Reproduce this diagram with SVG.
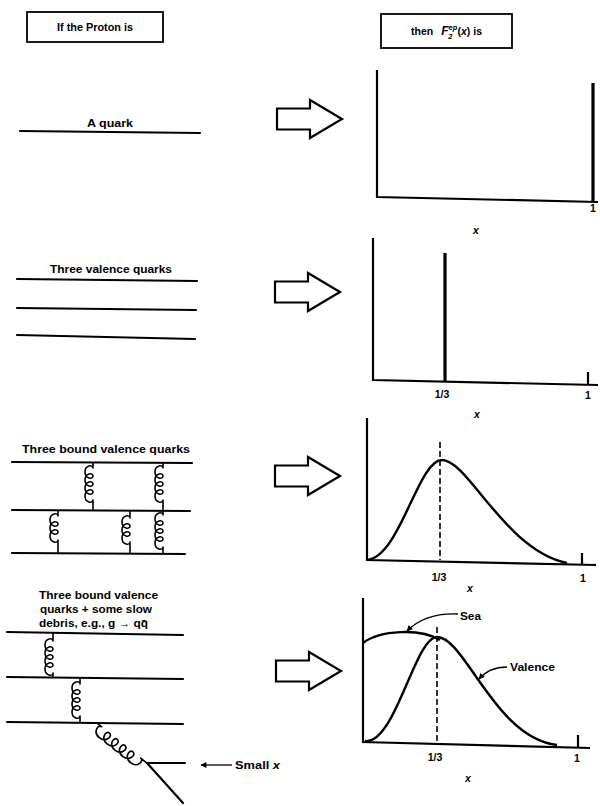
<svg xmlns="http://www.w3.org/2000/svg" xmlns:xlink="http://www.w3.org/1999/xlink" width="600" height="806" viewBox="0 0 600 806">
<style>
.t{font-family:"Liberation Sans",Arial,sans-serif;font-weight:bold;font-size:10.5px;fill:#000}
.i{font-style:italic}
.q{stroke:#000;stroke-width:2.2;fill:none;stroke-linecap:round}
.g{stroke:#000;stroke-width:1.6;fill:none;stroke-linejoin:round}
.ax{stroke:#000;stroke-width:2.2;fill:none}
.sp{stroke:#000;stroke-width:3.2;fill:none}
.cv{stroke:#000;stroke-width:2.4;fill:none}
.dash{stroke:#000;stroke-width:1.6;stroke-dasharray:6 3;fill:none}
.box{stroke:#000;stroke-width:1.8;fill:#fff}
.ha{stroke:#000;stroke-width:2.2;fill:#fff;stroke-linejoin:miter}
.ld{stroke:#000;stroke-width:1.3;fill:none}
</style>
<defs>
<path id="hollow" d="M0,-10.5 H33 V-19 L65,0 L33,19 V10.5 H0 Z"/>
<marker id="ah" viewBox="0 0 10 10" refX="9" refY="5" markerWidth="7" markerHeight="6" orient="auto" markerUnits="userSpaceOnUse">
<path d="M0,0 L10,5 L0,10 Z" fill="#000"/>
</marker>
</defs>
<rect width="600" height="806" fill="#fff"/>

<g id="header-left">
<rect class="box" x="27" y="12" width="136" height="30"/>
<text class="t" x="95" y="31" text-anchor="middle" textLength="76" lengthAdjust="spacingAndGlyphs">If the Proton is</text>
</g>
<g id="header-right">
<rect class="box" x="381" y="14" width="131" height="34"/>
<text class="t" x="411" y="35">then<tspan class="i" dx="8" font-size="12">F</tspan><tspan class="i" font-size="7.5" dy="-5">ep</tspan><tspan class="i" font-size="7.5" dx="-9" dy="9">2</tspan><tspan dx="5" dy="-4">(</tspan><tspan class="i">x</tspan>) is</text>
</g>

<g id="proton-quark">
<line class="q" x1="20" y1="131" x2="200" y2="133"/>
<text class="t" x="87" y="127" textLength="46" lengthAdjust="spacingAndGlyphs">A quark</text>
</g>

<g id="proton-three-valence">
<text class="t" x="50" y="273" textLength="122" lengthAdjust="spacingAndGlyphs">Three valence quarks</text>
<line class="q" x1="17" y1="279" x2="197" y2="281"/>
<line class="q" x1="17" y1="308" x2="196" y2="310"/>
<line class="q" x1="17" y1="335" x2="195" y2="339"/>
</g>

<g id="proton-bound">
<text class="t" x="22" y="453" textLength="168" lengthAdjust="spacingAndGlyphs">Three bound valence quarks</text>
<line class="q" x1="12" y1="462" x2="192" y2="463"/>
<line class="q" x1="12" y1="510" x2="190" y2="511"/>
<line class="q" x1="12" y1="553" x2="185" y2="554"/>
<path class="g" d="M93,462 V468 c 0,-3.6 -8,-3 -8,4 c 0,7 8,7.6 8,4 c 0,-3.6 -8,-3 -8,4 c 0,7 8,7.6 8,4 c 0,-3.6 -8,-3 -8,4 c 0,7 8,7.6 8,4 c 0,-3.6 -8,-3 -8,4 c 0,7 8,7.6 8,4 V510"/>
<path class="g" d="M163,462 V468 c 0,-3.6 -8,-3 -8,4 c 0,7 8,7.6 8,4 c 0,-3.6 -8,-3 -8,4 c 0,7 8,7.6 8,4 c 0,-3.6 -8,-3 -8,4 c 0,7 8,7.6 8,4 c 0,-3.6 -8,-3 -8,4 c 0,7 8,7.6 8,4 V510"/>
<path class="g" d="M58,510 V516 c 0,-3.6 -8,-3 -8,4 c 0,7 8,7.6 8,4 c 0,-3.6 -8,-3 -8,4 c 0,7 8,7.6 8,4 c 0,-3.6 -8,-3 -8,4 c 0,7 8,7.6 8,4 V553"/>
<path class="g" d="M130,510 V518 c 0,-3.6 -8,-3 -8,4 c 0,7 8,7.6 8,4 c 0,-3.6 -8,-3 -8,4 c 0,7 8,7.6 8,4 c 0,-3.6 -8,-3 -8,4 c 0,7 8,7.6 8,4 V553"/>
<path class="g" d="M163,510 V515 c 0,-3.6 -8,-3 -8,4 c 0,7 8,7.6 8,4 c 0,-3.6 -8,-3 -8,4 c 0,7 8,7.6 8,4 c 0,-3.6 -8,-3 -8,4 c 0,7 8,7.6 8,4 c 0,-3.6 -8,-3 -8,4 c 0,7 8,7.6 8,4 V553"/>
</g>

<g id="proton-bound-debris">
<text class="t" x="39" y="599" textLength="119" lengthAdjust="spacingAndGlyphs">Three bound valence</text>
<text class="t" x="40" y="613" textLength="112" lengthAdjust="spacingAndGlyphs">quarks + some slow</text>
<text class="t" x="39" y="627" textLength="109" lengthAdjust="spacingAndGlyphs">debris, e.g., g → qq̄</text>
<line class="q" x1="7" y1="632" x2="183" y2="635"/>
<line class="q" x1="7" y1="677" x2="183" y2="679"/>
<line class="q" x1="7" y1="722" x2="183" y2="724"/>
<path class="g" d="M53,633 V641 c 0,-3.6 -8,-3 -8,4 c 0,7 8,7.6 8,4 c 0,-3.6 -8,-3 -8,4 c 0,7 8,7.6 8,4 c 0,-3.6 -8,-3 -8,4 c 0,7 8,7.6 8,4 c 0,-3.6 -8,-3 -8,4 c 0,7 8,7.6 8,4 V678"/>
<path class="g" d="M80,678 V684 c 0,-3.6 -8,-3 -8,4 c 0,7 8,7.6 8,4 c 0,-3.6 -8,-3 -8,4 c 0,7 8,7.6 8,4 c 0,-3.6 -8,-3 -8,4 c 0,7 8,7.6 8,4 c 0,-3.6 -8,-3 -8,4 c 0,7 8,7.6 8,4 V723"/>
<path class="g" transform="translate(97,723) rotate(-51.3)" d="M0,0 V6 c 0,-4.5 -10,-3.8 -10,5 c 0,8.8 10,9.5 10,5 c 0,-4.5 -10,-3.8 -10,5 c 0,8.8 10,9.5 10,5 c 0,-4.5 -10,-3.8 -10,5 c 0,8.8 10,9.5 10,5 c 0,-4.5 -10,-3.8 -10,5 c 0,8.8 10,9.5 10,5 c 0,-4.5 -10,-3.8 -10,5 c 0,8.8 10,9.5 10,5 V64"/>
<line class="q" x1="147" y1="763" x2="185" y2="763"/>
<line class="q" x1="147" y1="763" x2="183" y2="803"/>
<line class="ld" x1="232" y1="765" x2="201" y2="765" marker-end="url(#ah)"/>
<text class="t" x="235" y="769" textLength="45" lengthAdjust="spacingAndGlyphs">Small <tspan class="i">x</tspan></text>
</g>

<g id="connectors">
<use xlink:href="#hollow" href="#hollow" class="ha" transform="translate(277,119)"/>
<use xlink:href="#hollow" href="#hollow" class="ha" transform="translate(275,292)"/>
<use xlink:href="#hollow" href="#hollow" class="ha" transform="translate(275,476)"/>
<use xlink:href="#hollow" href="#hollow" class="ha" transform="translate(276,671)"/>
</g>

<g id="plot-quark">
<path class="ax" d="M377,70 V197 L598,202"/>
<line class="sp" x1="593" y1="83" x2="593" y2="201"/>
<text class="t" x="593" y="212" text-anchor="middle">1</text>
<text class="t i" x="476" y="234" text-anchor="middle">x</text>
</g>

<g id="plot-three-valence">
<path class="ax" d="M373,238 V380 L598,385"/>
<line class="sp" x1="445" y1="253" x2="445" y2="381"/>
<line class="ax" x1="588" y1="372" x2="588" y2="385"/>
<text class="t" x="442" y="398" text-anchor="middle">1/3</text>
<text class="t" x="588" y="399" text-anchor="middle">1</text>
<text class="t i" x="477" y="418" text-anchor="middle">x</text>
</g>

<g id="plot-bound">
<path class="ax" d="M367,418 V560 L596,565"/>
<line class="dash" x1="440" y1="442" x2="440" y2="560"/>
<line class="ax" x1="582" y1="553" x2="582" y2="565"/>
<path class="cv" d="M367,560 C 400,557 418,460 442,460 C 468,460 505,550 567,563"/>
<text class="t" x="439" y="581" text-anchor="middle">1/3</text>
<text class="t" x="583" y="582" text-anchor="middle">1</text>
<text class="t i" x="470" y="592" text-anchor="middle">x</text>
</g>

<g id="plot-bound-debris">
<path class="ax" d="M363,598 V742 L590,748"/>
<line class="dash" x1="437" y1="627" x2="437" y2="742"/>
<line class="ax" x1="578" y1="735" x2="578" y2="748"/>
<path class="cv" d="M365,741 C 395,745 415,637 437,637 C 465,637 495,738 557,745"/>
<path class="cv" d="M363,643 C 380,630 420,628 440,640"/>
<path class="ld" d="M458,614 C 435,613 418,620 407,631" marker-end="url(#ah)"/>
<path class="ld" d="M507,667 C 496,667 486,671 479,679" marker-end="url(#ah)"/>
<text class="t" x="460" y="620" textLength="21" lengthAdjust="spacingAndGlyphs">Sea</text>
<text class="t" x="510" y="671" textLength="45" lengthAdjust="spacingAndGlyphs">Valence</text>
<text class="t" x="435" y="761" text-anchor="middle">1/3</text>
<text class="t" x="577" y="762" text-anchor="middle">1</text>
<text class="t i" x="468" y="782" text-anchor="middle">x</text>
</g>
</svg>
